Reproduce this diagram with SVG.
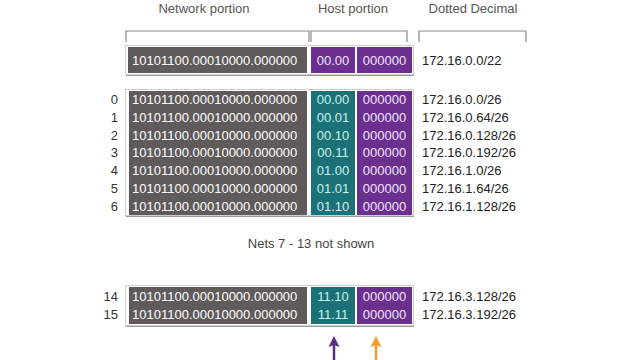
<svg xmlns="http://www.w3.org/2000/svg" width="640" height="360" viewBox="0 0 640 360">
<defs>
<style>
text{font-family:"Liberation Sans",Arial,sans-serif;font-size:13px}
.hdr{fill:#555;text-anchor:middle}
.num{fill:#333;text-anchor:end}
.dd{fill:#222}
.gt{fill:#fff}
.tt{fill:#c6f2f2;text-anchor:middle}
.pt{fill:#f3e6ff;text-anchor:middle}
.card{fill:#fff;stroke:#cfcfcf;stroke-width:1}
.shadow{fill:#9a9a9a}
.gray{fill:#5f5b5b}
.purple{fill:#6a2f8f}
.teal{fill:#1c7176}
.br{fill:none;stroke:#8a8a8a;stroke-width:1.2}
</style>
</defs>
<rect width="640" height="360" fill="#fff"/>
<g id="headers">
<text class="hdr" x="204" y="13">Network portion</text>
<text class="hdr" x="353" y="13">Host portion</text>
<text class="hdr" x="473" y="13">Dotted Decimal</text>
<path class="br" d="M126,42V31H309V42"/>
<path class="br" d="M311,42V31H407V42"/>
<path class="br" d="M419,42V31H526V42"/>
</g>
<g id="top">
<rect class="shadow" x="126" y="73" width="288" height="3"/>
<rect class="card" x="125.5" y="45.5" width="288" height="29"/>
<rect class="gray" x="128" y="47" width="179" height="26"/>
<rect class="purple" x="311" y="47" width="44" height="26"/>
<rect class="purple" x="357" y="47" width="55" height="26"/>
<text class="gt" x="132" y="64.5">10101100.00010000.000000</text>
<text class="pt" x="333" y="64.5">00.00</text>
<text class="pt" x="384.5" y="64.5">000000</text>
<text class="dd" x="422" y="64.5">172.16.0.0/22</text>
</g>
<g id="middle">
<rect class="shadow" x="126" y="214" width="288" height="3"/>
<rect class="card" x="125.5" y="89.5" width="288" height="126"/>
<rect class="gray" x="129" y="91" width="178" height="124"/>
<rect class="teal" x="311" y="91" width="44" height="124"/>
<rect class="purple" x="357" y="91" width="55" height="124"/>
<g id="row0"><text class="num" x="118" y="104">0</text><text class="gt" x="132" y="104">10101100.00010000.000000</text><text class="tt" x="333" y="104">00.00</text><text class="pt" x="384.5" y="104">000000</text><text class="dd" x="422" y="104">172.16.0.0/26</text></g>
<g id="row1"><text class="num" x="118" y="121.8">1</text><text class="gt" x="132" y="121.8">10101100.00010000.000000</text><text class="tt" x="333" y="121.8">00.01</text><text class="pt" x="384.5" y="121.8">000000</text><text class="dd" x="422" y="121.8">172.16.0.64/26</text></g>
<g id="row2"><text class="num" x="118" y="139.6">2</text><text class="gt" x="132" y="139.6">10101100.00010000.000000</text><text class="tt" x="333" y="139.6">00.10</text><text class="pt" x="384.5" y="139.6">000000</text><text class="dd" x="422" y="139.6">172.16.0.128/26</text></g>
<g id="row3"><text class="num" x="118" y="157.4">3</text><text class="gt" x="132" y="157.4">10101100.00010000.000000</text><text class="tt" x="333" y="157.4">00.11</text><text class="pt" x="384.5" y="157.4">000000</text><text class="dd" x="422" y="157.4">172.16.0.192/26</text></g>
<g id="row4"><text class="num" x="118" y="175.2">4</text><text class="gt" x="132" y="175.2">10101100.00010000.000000</text><text class="tt" x="333" y="175.2">01.00</text><text class="pt" x="384.5" y="175.2">000000</text><text class="dd" x="422" y="175.2">172.16.1.0/26</text></g>
<g id="row5"><text class="num" x="118" y="193">5</text><text class="gt" x="132" y="193">10101100.00010000.000000</text><text class="tt" x="333" y="193">01.01</text><text class="pt" x="384.5" y="193">000000</text><text class="dd" x="422" y="193">172.16.1.64/26</text></g>
<g id="row6"><text class="num" x="118" y="210.8">6</text><text class="gt" x="132" y="210.8">10101100.00010000.000000</text><text class="tt" x="333" y="210.8">01.10</text><text class="pt" x="384.5" y="210.8">000000</text><text class="dd" x="422" y="210.8">172.16.1.128/26</text></g>
</g>
<g id="note">
<text x="311" y="248" style="fill:#444;text-anchor:middle">Nets 7 - 13 not shown</text>
</g>
<g id="bottom">
<rect class="shadow" x="126" y="324" width="288" height="3"/>
<rect class="card" x="125.5" y="285.5" width="288" height="40"/>
<rect class="gray" x="129" y="287" width="178" height="37"/>
<rect class="teal" x="311" y="287" width="44" height="37"/>
<rect class="purple" x="357" y="287" width="55" height="37"/>
<g id="row14"><text class="num" x="118" y="301">14</text><text class="gt" x="132" y="301">10101100.00010000.000000</text><text class="tt" x="333" y="301">11.10</text><text class="pt" x="384.5" y="301">000000</text><text class="dd" x="422" y="301">172.16.3.128/26</text></g>
<g id="row15"><text class="num" x="118" y="319">15</text><text class="gt" x="132" y="319">10101100.00010000.000000</text><text class="tt" x="333" y="319">11.11</text><text class="pt" x="384.5" y="319">000000</text><text class="dd" x="422" y="319">172.16.3.192/26</text></g>
</g>
<g id="connectors">
<path d="M334,360V344" stroke="#5b2d86" stroke-width="2.5" fill="none"/>
<path d="M334,336L339.5,347L334,345L328.5,347Z" fill="#5b2d86"/>
<path d="M376,360V344" stroke="#f39a2b" stroke-width="2.5" fill="none"/>
<path d="M376,336L381.5,347L376,345L370.5,347Z" fill="#f39a2b"/>
</g>
</svg>
